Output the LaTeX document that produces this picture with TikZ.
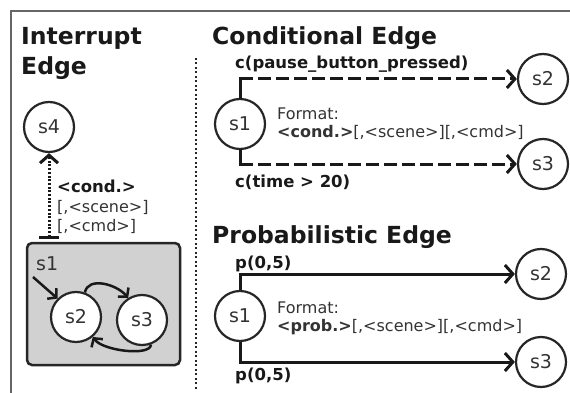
\documentclass[tikz,border=0pt]{standalone}
\usepackage{fontspec}
\setmainfont{DejaVu Sans}
\usetikzlibrary{arrows.meta}

\tikzset{
  state/.style={circle, draw=black!85, line width=2.2pt, minimum size=50pt, inner sep=0pt,
    font=\fontsize{19}{19}\selectfont, text=black!80},
  title/.style={anchor=base west, inner sep=0pt, font=\fontsize{23.5}{23.5}\selectfont\bfseries, text=black!90},
  lbl/.style={anchor=base west, inner sep=0pt, font=\fontsize{16}{16}\selectfont, text=black!80},
  edgelbl/.style={lbl, font=\fontsize{16.5}{16.5}\selectfont\bfseries, text=black!90},
  edge/.style={line width=3pt, draw=black!90, -{Straight Barb[length=8pt,width=18pt]}},
  stem/.style={line width=3pt, draw=black!90, line cap=rect},
  condedge/.style={edge, dash pattern=on 13pt off 5pt},
  intedge/.style={line width=3pt, draw=black!90, dash pattern=on 2pt off 1.7pt,
    {Bar[width=20pt,line width=3pt]}-{Straight Barb[length=8pt,width=18pt]}},
  inner/.style={line width=2.5pt, draw=black!90, -{Straight Barb[length=6pt,width=14pt]}},
  group/.style={draw=black!85, fill=black!18, line width=2.5pt, rounded corners=5pt,
    minimum width=153pt, minimum height=122pt, inner sep=0pt},
  frame/.style={draw=black!60, line width=1.8pt}
}

\begin{document}
\begin{tikzpicture}[x=1pt, y=-1pt]
  \useasboundingbox (0,0) rectangle (570,393);
  \draw[frame] (11,393) -- (11,11) -- (570,11);
  \draw[line width=2pt, draw=black!85, dash pattern=on 2pt off 2.5pt] (196,58) -- (196,390);

  % interrupt edge
  \node[title] (ititle) at (21,45) {Interrupt};
  \node[title] (ititle2) at (21,75) {Edge};
  \node[state] (s4) at (49,127) {s4};
  \node[group] (grp) at (103.5,304) {};
  \node[lbl, text=black!80] (grplbl) at (36,270) {\fontsize{19}{19}\selectfont s1};
  \node[state, fill=white] (b2) at (76,317) {s2};
  \node[state, fill=white] (b3) at (142,320) {s3};
  \coordinate (ibar) at (49,239);
  \coordinate (init) at (33,277);
  \draw[intedge] (ibar) -- (s4);
  \node[edgelbl] (icond) at (57,192) {<cond.>};
  \node[lbl] (iscene) at (57,212) {[,<scene>]};
  \node[lbl] (icmd) at (57,231) {[,<cmd>]};
  \draw[inner] (init) -- (b2.135);
  \draw[inner] (b2.70) .. controls +(3,-16) and +(-12,-14) .. (b3.122);
  \draw[inner] (b3.-70) .. controls +(0,12) and +(10,14) .. (b2.-50);

  % conditional edge
  \node[title] (ctitle) at (212,45) {Conditional Edge};
  \node[state] (c1) at (240,124) {s1};
  \node[state] (c2) at (543,79) {s2};
  \node[state] (c3) at (543,164) {s3};
  \draw[stem] (c1.north) -- (c1.north |- c2.west) coordinate (ctop);
  \draw[stem] (c1.south) -- (c1.south |- c3.west) coordinate (cbot);
  \draw[condedge] (ctop) -- (c2.west);
  \draw[condedge] (cbot) -- (c3.west);
  \node[edgelbl] (clbl1) at (235,69) {c(pause\_button\_pressed)};
  \node[edgelbl] (clbl2) at (235,187) {c(time > 20)};
  \node[lbl] (cfmt) at (277,120) {Format:};
  \node[lbl] (cfmt2) at (277,138) {\textbf{<cond.>}[,<scene>][,<cmd>]};

  % probabilistic edge
  \node[title] (ptitle) at (212,243) {Probabilistic Edge};
  \node[state] (p1) at (240,316) {s1};
  \node[state] (p2) at (541,274) {s2};
  \node[state] (p3) at (541,362) {s3};
  \draw[edge] (p1.north) |- (p2.west);
  \draw[edge] (p1.south) |- (p3.west);
  \node[edgelbl] (plbl1) at (235,268) {p(0,5)};
  \node[edgelbl] (plbl2) at (235,380) {p(0,5)};
  \node[lbl] (pfmt) at (277,313) {Format:};
  \node[lbl] (pfmt2) at (277,331) {\textbf{<prob.>}[,<scene>][,<cmd>]};
\end{tikzpicture}
\end{document}
